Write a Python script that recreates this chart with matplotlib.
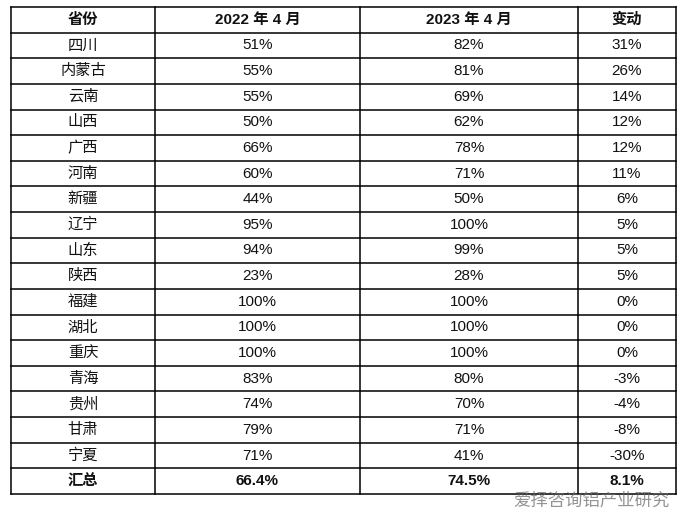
import matplotlib
matplotlib.use("Agg")
import matplotlib.pyplot as plt

provinces = ["四川", "内蒙古", "云南", "山西", "广西", "河南", "新疆", "辽宁", "山东", "陕西",
             "福建", "湖北", "重庆", "青海", "贵州", "甘肃", "宁夏"]
apr_2022 = ["51%", "55%", "55%", "50%", "66%", "60%", "44%", "95%", "94%", "23%",
            "100%", "100%", "100%", "83%", "74%", "79%", "71%"]
apr_2023 = ["82%", "81%", "69%", "62%", "78%", "71%", "50%", "100%", "99%", "28%",
            "100%", "100%", "100%", "80%", "70%", "71%", "41%"]
change = ["31%", "26%", "14%", "12%", "12%", "11%", "6%", "5%", "5%", "5%",
          "0%", "0%", "0%", "-3%", "-4%", "-8%", "-30%"]
headers = ["省份", "2022 年 4 月", "2023 年 4 月", "变动"]
total = ["汇总", "66.4%", "74.5%", "8.1%"]

plt.rcParams["font.family"] = ["Liberation Sans", "Noto Sans CJK SC"]

fig = plt.figure(figsize=(6.86, 5.25), dpi=100)
ax = fig.add_axes([0, 0, 1, 1])
ax.set_xlim(0, 686)
ax.set_ylim(525, 0)
ax.axis("off")

xs = [11, 155, 360, 578, 676]
top, bottom = 7, 494
rows = [headers] + [list(r) for r in zip(provinces, apr_2022, apr_2023, change)] + [total]
h = (bottom - top) / len(rows)

for x in xs:
    ax.plot([x, x], [top, bottom], color="black", lw=1.1)
for i in range(len(rows) + 1):
    ax.plot([xs[0], xs[-1]], [top + i * h] * 2, color="black", lw=1.1)

for i, row in enumerate(rows):
    bold = i == 0 or i == len(rows) - 1
    for j, txt in enumerate(row):
        ax.text((xs[j] + xs[j + 1]) / 2, top + (i + 0.5) * h, txt,
                ha="center", va="center", fontsize=11,
                fontweight="bold" if bold else "normal", color="#111111")

ax.text(670, 500, "爱择咨询铝产业研究", ha="right", va="center", fontsize=12.5,
        color="#666666", alpha=0.7)

fig.savefig("out.png", dpi=100)
